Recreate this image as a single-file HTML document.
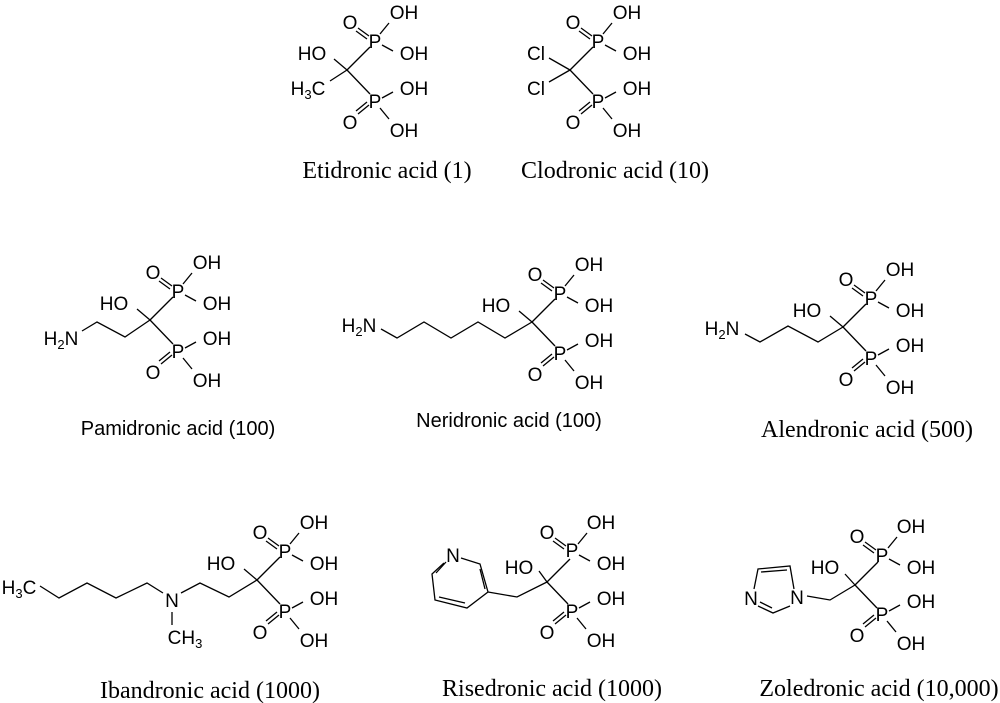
<!DOCTYPE html>
<html><head><meta charset="utf-8"><style>
html,body{margin:0;padding:0;background:#fff;}
svg{display:block;}
.a{font-family:"Liberation Sans",Arial,sans-serif;font-size:19px;fill:#000;text-anchor:middle;}
.t{font-family:"Liberation Serif","Times New Roman",serif;font-size:24px;fill:#000;text-anchor:middle;}
.s{font-family:"Liberation Sans",Arial,sans-serif;font-size:20px;fill:#000;text-anchor:middle;}
line,polyline,polygon{stroke:#000;stroke-width:1.3;fill:none;}
</style></head><body>
<svg width="1000" height="703" viewBox="0 0 1000 703" xmlns="http://www.w3.org/2000/svg">

<!-- 1 Etidronic -->
<g transform="translate(347,70)">
<line x1="0" y1="0" x2="23" y2="-23"/><text class="a" x="28" y="-22">P</text>
<line x1="33" y1="-36" x2="42" y2="-47"/><text class="a" x="57" y="-51">OH</text>
<line x1="35" y1="-25" x2="46" y2="-19"/><text class="a" x="67" y="-10">OH</text>
<line x1="22" y1="-34" x2="11" y2="-42"/><line x1="20" y1="-31" x2="9" y2="-39"/><text class="a" x="3" y="-41">O</text>
<line x1="0" y1="0" x2="23" y2="24"/><text class="a" x="28" y="38">P</text>
<line x1="35" y1="28" x2="46" y2="22"/><text class="a" x="67" y="25">OH</text>
<line x1="33" y1="38" x2="42" y2="49"/><text class="a" x="57" y="67">OH</text>
<line x1="22" y1="35" x2="11" y2="44"/><line x1="20" y1="32" x2="9" y2="41"/><text class="a" x="3" y="59">O</text>
<line x1="0" y1="0" x2="-13" y2="-11"/><text class="a" x="-35" y="-10">HO</text>
<line x1="0" y1="0" x2="-17" y2="11"/>
</g>
<text class="a" x="308" y="95">H<tspan font-size="13" dy="4">3</tspan><tspan dy="-4">C</tspan></text>
<text class="t" x="387" y="178">Etidronic acid (1)</text>

<!-- 2 Clodronic -->
<g transform="translate(570,70)">
<line x1="0" y1="0" x2="23" y2="-23"/><text class="a" x="28" y="-22">P</text>
<line x1="33" y1="-36" x2="42" y2="-47"/><text class="a" x="57" y="-51">OH</text>
<line x1="35" y1="-25" x2="46" y2="-19"/><text class="a" x="67" y="-10">OH</text>
<line x1="22" y1="-34" x2="11" y2="-42"/><line x1="20" y1="-31" x2="9" y2="-39"/><text class="a" x="3" y="-41">O</text>
<line x1="0" y1="0" x2="23" y2="24"/><text class="a" x="28" y="38">P</text>
<line x1="35" y1="28" x2="46" y2="22"/><text class="a" x="67" y="25">OH</text>
<line x1="33" y1="38" x2="42" y2="49"/><text class="a" x="57" y="67">OH</text>
<line x1="22" y1="35" x2="11" y2="44"/><line x1="20" y1="32" x2="9" y2="41"/><text class="a" x="3" y="59">O</text>
<line x1="0" y1="0" x2="-21" y2="-12"/><text class="a" x="-34" y="-10">Cl</text>
<line x1="0" y1="0" x2="-21" y2="12"/><text class="a" x="-34" y="25">Cl</text>
</g>
<text class="t" x="615" y="178">Clodronic acid (10)</text>

<!-- 3 Pamidronic -->
<g transform="translate(150,320)">
<line x1="0" y1="0" x2="23" y2="-23"/><text class="a" x="28" y="-22">P</text>
<line x1="33" y1="-36" x2="42" y2="-47"/><text class="a" x="57" y="-51">OH</text>
<line x1="35" y1="-25" x2="46" y2="-19"/><text class="a" x="67" y="-10">OH</text>
<line x1="22" y1="-34" x2="11" y2="-42"/><line x1="20" y1="-31" x2="9" y2="-39"/><text class="a" x="3" y="-41">O</text>
<line x1="0" y1="0" x2="23" y2="24"/><text class="a" x="28" y="38">P</text>
<line x1="35" y1="28" x2="46" y2="22"/><text class="a" x="67" y="25">OH</text>
<line x1="33" y1="38" x2="42" y2="49"/><text class="a" x="57" y="67">OH</text>
<line x1="22" y1="35" x2="11" y2="44"/><line x1="20" y1="32" x2="9" y2="41"/><text class="a" x="3" y="59">O</text>
<line x1="0" y1="0" x2="-13" y2="-11"/><text class="a" x="-36" y="-10">HO</text>
</g>
<polyline points="150,320 125,337 97,322 82,331"/>
<text class="a" x="61" y="345">H<tspan font-size="13" dy="4">2</tspan><tspan dy="-4">N</tspan></text>
<text class="s" x="178" y="435">Pamidronic acid (100)</text>

<!-- 4 Neridronic -->
<g transform="translate(532,322)">
<line x1="0" y1="0" x2="23" y2="-23"/><text class="a" x="28" y="-22">P</text>
<line x1="33" y1="-36" x2="42" y2="-47"/><text class="a" x="57" y="-51">OH</text>
<line x1="35" y1="-25" x2="46" y2="-19"/><text class="a" x="67" y="-10">OH</text>
<line x1="22" y1="-34" x2="11" y2="-42"/><line x1="20" y1="-31" x2="9" y2="-39"/><text class="a" x="3" y="-41">O</text>
<line x1="0" y1="0" x2="23" y2="24"/><text class="a" x="28" y="38">P</text>
<line x1="35" y1="28" x2="46" y2="22"/><text class="a" x="67" y="25">OH</text>
<line x1="33" y1="38" x2="42" y2="49"/><text class="a" x="57" y="67">OH</text>
<line x1="22" y1="35" x2="11" y2="44"/><line x1="20" y1="32" x2="9" y2="41"/><text class="a" x="3" y="59">O</text>
<line x1="0" y1="0" x2="-13" y2="-11"/><text class="a" x="-36" y="-10">HO</text>
</g>
<polyline points="532,322 505,338 478,322 451,338 424,322 397,338 381,329"/>
<text class="a" x="359" y="332">H<tspan font-size="13" dy="4">2</tspan><tspan dy="-4">N</tspan></text>
<text class="s" x="509" y="427">Neridronic acid (100)</text>

<!-- 5 Alendronic -->
<g transform="translate(843,327)">
<line x1="0" y1="0" x2="23" y2="-23"/><text class="a" x="28" y="-22">P</text>
<line x1="33" y1="-36" x2="42" y2="-47"/><text class="a" x="57" y="-51">OH</text>
<line x1="35" y1="-25" x2="46" y2="-19"/><text class="a" x="67" y="-10">OH</text>
<line x1="22" y1="-34" x2="11" y2="-42"/><line x1="20" y1="-31" x2="9" y2="-39"/><text class="a" x="3" y="-41">O</text>
<line x1="0" y1="0" x2="23" y2="24"/><text class="a" x="28" y="38">P</text>
<line x1="35" y1="28" x2="46" y2="22"/><text class="a" x="67" y="25">OH</text>
<line x1="33" y1="38" x2="42" y2="49"/><text class="a" x="57" y="67">OH</text>
<line x1="22" y1="35" x2="11" y2="44"/><line x1="20" y1="32" x2="9" y2="41"/><text class="a" x="3" y="59">O</text>
<line x1="0" y1="0" x2="-13" y2="-11"/><text class="a" x="-36" y="-10">HO</text>
</g>
<polyline points="843,327 818,342 788,326 760,342 745,334"/>
<text class="a" x="722" y="335">H<tspan font-size="13" dy="4">2</tspan><tspan dy="-4">N</tspan></text>
<text class="t" x="867" y="437">Alendronic acid (500)</text>

<!-- 6 Ibandronic -->
<g transform="translate(257,580)">
<line x1="0" y1="0" x2="23" y2="-23"/><text class="a" x="28" y="-22">P</text>
<line x1="33" y1="-36" x2="42" y2="-47"/><text class="a" x="57" y="-51">OH</text>
<line x1="35" y1="-25" x2="46" y2="-19"/><text class="a" x="67" y="-10">OH</text>
<line x1="22" y1="-34" x2="11" y2="-42"/><line x1="20" y1="-31" x2="9" y2="-39"/><text class="a" x="3" y="-41">O</text>
<line x1="0" y1="0" x2="23" y2="24"/><text class="a" x="28" y="38">P</text>
<line x1="35" y1="28" x2="46" y2="22"/><text class="a" x="67" y="25">OH</text>
<line x1="33" y1="38" x2="42" y2="49"/><text class="a" x="57" y="67">OH</text>
<line x1="22" y1="35" x2="11" y2="44"/><line x1="20" y1="32" x2="9" y2="41"/><text class="a" x="3" y="59">O</text>
<line x1="0" y1="0" x2="-13" y2="-11"/><text class="a" x="-36" y="-10">HO</text>
</g>
<polyline points="257,580 229,597 200,583 181,593"/>
<polyline points="163,593 147,583 116,598 87,583 59,598 40,586"/>
<text class="a" x="172" y="607">N</text>
<line x1="172" y1="612" x2="172" y2="625"/>
<text class="a" x="185" y="644">CH<tspan font-size="13" dy="4">3</tspan></text>
<text class="a" x="19" y="594">H<tspan font-size="13" dy="4">3</tspan><tspan dy="-4">C</tspan></text>
<text class="t" x="210" y="698">Ibandronic acid (1000)</text>

<!-- 7 Risedronic -->
<g transform="translate(547,582)">
<line x1="0" y1="0" x2="23" y2="-23"/><text class="a" x="25" y="-25">P</text>
<line x1="31" y1="-38" x2="40" y2="-49"/><text class="a" x="54" y="-53">OH</text>
<line x1="32" y1="-27" x2="43" y2="-21"/><text class="a" x="64" y="-12">OH</text>
<line x1="19" y1="-36" x2="8" y2="-44"/><line x1="17" y1="-33" x2="6" y2="-41"/><text class="a" x="0" y="-43">O</text>
<line x1="0" y1="0" x2="21" y2="22"/><text class="a" x="25" y="36">P</text>
<line x1="32" y1="26" x2="43" y2="20"/><text class="a" x="64" y="23">OH</text>
<line x1="30" y1="36" x2="39" y2="47"/><text class="a" x="54" y="65">OH</text>
<line x1="19" y1="33" x2="8" y2="42"/><line x1="17" y1="30" x2="6" y2="39"/><text class="a" x="0" y="57">O</text>
<line x1="0" y1="0" x2="-8" y2="-11"/><text class="a" x="-28" y="-8">HO</text>
</g>
<polyline points="547,582 517,597 488,592"/>
<polyline points="461,558 480,564 488,592 467,608 435,600 432,574 444,563"/>
<line x1="480" y1="569" x2="485" y2="589"/>
<line x1="465" y1="603" x2="439" y2="597"/>
<line x1="436" y1="573" x2="446" y2="562"/>
<text class="a" x="453" y="562">N</text>
<text class="t" x="552" y="696">Risedronic acid (1000)</text>

<!-- 8 Zoledronic -->
<g transform="translate(855,585)">
<line x1="0" y1="0" x2="23" y2="-23"/><text class="a" x="27" y="-23">P</text>
<line x1="33" y1="-37" x2="42" y2="-48"/><text class="a" x="56" y="-52">OH</text>
<line x1="34" y1="-26" x2="45" y2="-20"/><text class="a" x="66" y="-11">OH</text>
<line x1="21" y1="-35" x2="10" y2="-43"/><line x1="19" y1="-32" x2="8" y2="-40"/><text class="a" x="2" y="-42">O</text>
<line x1="0" y1="0" x2="22" y2="23"/><text class="a" x="27" y="36">P</text>
<line x1="34" y1="26" x2="45" y2="20"/><text class="a" x="66" y="23">OH</text>
<line x1="32" y1="36" x2="41" y2="47"/><text class="a" x="56" y="65">OH</text>
<line x1="21" y1="33" x2="10" y2="42"/><line x1="19" y1="30" x2="8" y2="39"/><text class="a" x="2" y="57">O</text>
<line x1="0" y1="0" x2="-10" y2="-11"/><text class="a" x="-30" y="-11">HO</text>
</g>
<polyline points="855,585 830,600 807,596"/>
<polyline points="794,589 790,566 758,569 754,589"/>
<line x1="787" y1="570" x2="761" y2="572"/>
<polyline points="758,606 773,613 790,606"/>
<line x1="760" y1="602" x2="772" y2="608"/>
<text class="a" x="797" y="604">N</text>
<text class="a" x="751" y="605">N</text>
<text class="t" x="879" y="696">Zoledronic acid (10,000)</text>
</svg>
</body></html>
